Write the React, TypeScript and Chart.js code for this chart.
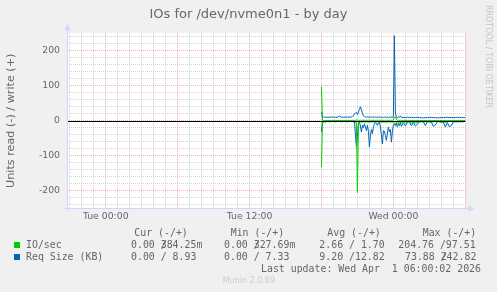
import React, { useEffect, useRef } from 'react';
import { Chart, registerables } from 'chart.js';

Chart.register(...registerables);

// time of each sample, minutes after Tue 00:00
const minutes = [
  1080, 1085, 1090, 1095, 1100,
  1110, 1120, 1130, 1140, 1150, 1160, 1170, 1180, 1190, 1200, 1210, 1220, 1230,
  1235, 1240, 1245, 1250, 1255, 1260, 1265, 1270, 1275, 1280,
  1285, 1290, 1295, 1300, 1305, 1310, 1315, 1320, 1325, 1330,
  1335, 1340, 1345, 1350, 1355, 1360, 1365, 1370, 1375, 1380,
  1385, 1390, 1395, 1400, 1405, 1410, 1415, 1420, 1425, 1430,
  1435, 1440, 1445, 1450, 1455, 1460, 1465, 1470, 1475, 1480,
  1490, 1500, 1510, 1520, 1530, 1540, 1550, 1560, 1570, 1580, 1590, 1600, 1610, 1620, 1630, 1640,
  1650, 1660, 1670, 1680, 1690, 1700, 1710, 1720, 1730, 1740, 1750, 1760, 1770, 1780, 1790, 1800,
];

// IO/sec write (+)
const ioWrite = [
  97.51, 1.2, 0.8, 0.6, 0.9,
  0.7, 0.9, 0.6, 0.8, 1.1, 0.7, 0.9, 0.6, 0.8, 0.7, 1.0, 0.8, 0.9,
  1.0, 1.2, 0.9, 1.5, 2.0, 1.8, 1.4, 1.2, 1.6, 1.3,
  1.1, 1.4, 1.2, 1.0, 1.3, 1.1, 1.5, 1.2, 1.0, 1.4,
  1.1, 1.3, 1.0, 1.2, 1.4, 1.1, 1.0, 1.3, 1.2, 1.1,
  1.4, 1.2, 1.0, 1.3, 1.1, 1.2, 1.0, 1.3, 1.1, 1.4,
  1.2, 2.5, 9.0, 11.0, 4.0, 1.5, 1.2, 1.0, 1.3, 0.9,
  0.8, 1.0, 0.7, 0.9, 0.6, 0.8, 0.7, 0.9, 0.6, 0.5, 0.7, 0.6, 0.8, 0.5, 0.6, 0.7,
  0.5, 0.6, 0.8, 0.5, 0.6, 0.4, 0.5, 0.7, 0.5, 0.4, 0.6, 0.5, 0.4, 0.5, 0.4, 0.38,
];

// IO/sec read (-), magnitudes
const ioRead = [
  132.0, 2.5, 0.8, 0.5, 0.6,
  0.4, 0.5, 0.3, 0.4, 0.6, 0.4, 0.5, 0.3, 0.4, 0.5, 0.4, 0.6, 0.5,
  0.6, 0.8, 1.0, 3.0, 6.0, 204.76, 5.0, 3.5, 3.0, 3.8,
  3.2, 3.6, 3.0, 4.0, 3.4, 3.0, 3.8, 4.5, 3.2, 3.5,
  3.0, 3.4, 3.1, 3.6, 3.0, 3.3, 3.0, 3.2, 3.5, 3.8,
  4.2, 3.4, 3.6, 3.8, 4.0, 3.5, 3.2, 3.6, 3.4, 4.0,
  3.6, 4.5, 7.0, 9.0, 5.0, 6.0, 4.0, 7.0, 3.5, 6.5,
  3.0, 5.5, 3.0, 2.5, 6.0, 3.0, 6.5, 4.0, 2.0, 2.0, 2.5, 3.0, 2.0, 2.5, 5.0, 2.0,
  1.5, 1.5, 2.0, 5.5, 2.0, 5.0, 2.5, 1.5, 1.2, 1.5, 1.0, 1.2, 0.8, 0.6, 0.5, 0.0,
];

// Req Size (KB) write (+)
const reqWrite = [
  25, 10, 10, 11, 10,
  10, 10, 11, 10, 10, 10, 13, 10, 10, 10, 11, 10, 11,
  12, 14, 19, 22, 24, 18, 25, 32, 40, 31,
  21, 14, 12, 11, 10, 11, 10, 11, 10, 10,
  11, 10, 10, 11, 10, 10, 10, 11, 10, 10,
  9, 10, 10, 11, 10, 10, 9, 10, 10, 11,
  10, 10, 242.82, 22, 10, 9, 11, 10, 14, 9,
  10, 9, 10, 9, 10, 9, 9, 10, 9, 9, 8, 9, 9, 9, 10, 9,
  9, 8, 9, 9, 9, 9, 10, 9, 9, 9, 9, 10, 9, 9, 9, 8.93,
];

// Req Size (KB) read (-), magnitudes
const reqRead = [
  32, 3, 5, 2, 4,
  2, 3, 2, 2, 3, 2, 2, 3, 2, 2, 3, 2, 2,
  2, 3, 2, 40, 75, 45, 9, 4, 15, 32,
  13, 20, 9, 18, 28, 13, 30, 75, 42, 25,
  37, 18, 10, 4, 8, 13, 6, 4, 18, 40,
  66, 28, 30, 42, 56, 35, 18, 32, 25, 61,
  30, 13, 9, 14, 6, 18, 8, 14, 5, 16,
  6, 15, 4, 3, 14, 5, 15, 10, 3, 3, 3, 14, 3, 3, 4, 16,
  12, 3, 3, 3, 4, 18, 5, 17, 14, 3, 3, 3, 3, 3, 3, 0,
];

const xLabelMinutes = [0, 720, 1440];
const xLabels = ['Tue 00:00', 'Tue 12:00', 'Wed 00:00'];
const yLabelValues = [-200, -100, 0, 100, 200];
const yLabels = ['-200', '-100', '0', '100', '200'];

const X_MIN = -194;
const X_MAX = 1800;
const Y_MIN = -250;
const Y_MAX = 250;

const GREEN = '#00CC00';
const BLUE = '#0066B3';
const MINOR = 'rgba(175,175,175,0.55)';
const MAJOR = 'rgba(240,120,120,0.6)';
const AXIS = '#CFD6F8';
const FONT_COLOR = '#666666';

const decor = {
  id: 'decor',
  beforeDraw(chart: any) {
    const { ctx, chartArea: a } = chart;
    ctx.save();
    ctx.fillStyle = '#FFFFFF';
    ctx.fillRect(a.left, a.top, a.right - a.left, a.bottom - a.top);
    ctx.restore();
  },
  afterDatasetsDraw(chart: any) {
    const { ctx, chartArea: a, scales } = chart;
    const y0 = Math.round(scales.y.getPixelForValue(0)) + 0.5;
    ctx.save();
    ctx.strokeStyle = '#000000';
    ctx.lineWidth = 1;
    ctx.beginPath();
    ctx.moveTo(a.left, y0);
    ctx.lineTo(a.right, y0);
    ctx.stroke();
    ctx.restore();
  },
  afterDraw(chart: any) {
    const { ctx, chartArea: a } = chart;
    const l = Math.round(a.left) + 0.5;
    const b = Math.round(a.bottom) + 0.5;
    ctx.save();
    ctx.strokeStyle = AXIS;
    ctx.fillStyle = AXIS;
    ctx.lineWidth = 1;
    ctx.beginPath();
    ctx.moveTo(l, b + 3);
    ctx.lineTo(l, a.top - 4);
    ctx.moveTo(l - 3, b);
    ctx.lineTo(a.right + 4, b);
    ctx.stroke();
    ctx.beginPath();
    ctx.moveTo(l - 3, a.top - 3);
    ctx.lineTo(l + 3, a.top - 3);
    ctx.lineTo(l, a.top - 9);
    ctx.closePath();
    ctx.fill();
    ctx.beginPath();
    ctx.moveTo(a.right + 3, b - 3);
    ctx.lineTo(a.right + 3, b + 3);
    ctx.lineTo(a.right + 9, b);
    ctx.closePath();
    ctx.fill();
    ctx.restore();
  },
};

const mono: React.CSSProperties = {
  position: 'absolute',
  fontFamily: '"DejaVu Sans Mono", monospace',
  fontSize: 9.9,
  lineHeight: '12px',
  color: FONT_COLOR,
  whiteSpace: 'pre',
  margin: 0,
};

const Over = ({ ch }: { ch: string }) => (
  <span style={{ display: 'inline-block', width: 0 }}>{ch}</span>
);

export default function App() {
  const ref = useRef<HTMLCanvasElement>(null);

  useEffect(() => {
    const pts = (vals: number[], sign: number) => minutes.map((m, i) => ({ x: m, y: sign * vals[i] }));
    const line = (data: any, color: string, label: string) => ({
      label,
      data,
      borderColor: color,
      backgroundColor: color,
      borderWidth: 1,
      pointRadius: 0,
      tension: 0,
      fill: false,
    });
    const chart = new Chart(ref.current as HTMLCanvasElement, {
      type: 'line',
      data: {
        datasets: [
          line(pts(ioRead, -1), GREEN, 'IO/sec read'),
          line(pts(ioWrite, 1), GREEN, 'IO/sec write'),
          line(pts(reqRead, -1), BLUE, 'Req Size (KB) read'),
          line(pts(reqWrite, 1), BLUE, 'Req Size (KB) write'),
        ],
      },
      options: {
        animation: false,
        responsive: false,
        devicePixelRatio: 1,
        layout: { padding: { left: 0, top: 33.2, right: 31.7, bottom: 63.7 } },
        plugins: {
          legend: { display: false },
          tooltip: { enabled: false },
          title: { display: false },
        },
        scales: {
          x: {
            type: 'linear',
            min: X_MIN,
            max: X_MAX,
            afterBuildTicks: (s: any) => {
              const t: any[] = [];
              for (let v = -180; v <= X_MAX; v += 60) t.push({ value: v });
              s.ticks = t;
            },
            afterFit: (s: any) => {
              s.height = 20;
            },
            grid: {
              color: (c: any) => (c.tick && c.tick.value % 360 === 0 ? MAJOR : MINOR),
              lineWidth: 1,
              drawTicks: false,
            },
            border: { display: false, dash: [1, 1] },
            ticks: {
              autoSkip: false,
              maxRotation: 0,
              padding: 3,
              color: FONT_COLOR,
              font: { family: 'DejaVu Sans', size: 9.3 },
              callback: (v: any) => {
                const i = xLabelMinutes.indexOf(Number(v));
                return i >= 0 ? xLabels[i] : '';
              },
            },
          },
          y: {
            type: 'linear',
            min: Y_MIN,
            max: Y_MAX,
            afterBuildTicks: (s: any) => {
              const t: any[] = [];
              for (let v = -240; v <= 240; v += 20) t.push({ value: v });
              s.ticks = t;
            },
            afterFit: (s: any) => {
              s.width = 67;
            },
            grid: {
              color: (c: any) => (c.tick && c.tick.value % 100 === 0 ? MAJOR : MINOR),
              lineWidth: 1,
              drawTicks: false,
            },
            border: { display: false, dash: [1, 1] },
            ticks: {
              autoSkip: false,
              padding: 7,
              color: FONT_COLOR,
              font: { family: 'DejaVu Sans', size: 9.3 },
              callback: (v: any) => {
                const i = yLabelValues.indexOf(Number(v));
                return i >= 0 ? yLabels[i] : '';
              },
            },
            title: {
              display: true,
              text: 'Units read (-) / write (+)',
              color: FONT_COLOR,
              font: { family: 'DejaVu Sans', size: 11.2 },
              padding: { top: 4, bottom: 0 },
            },
          },
        },
      },
      plugins: [decor],
    } as any);
    return () => chart.destroy();
  }, []);

  return (
    <div
      style={{
        position: 'absolute',
        left: 0,
        top: 0,
        width: 497,
        height: 292,
        background: '#F0F0F0',
        overflow: 'hidden',
      }}
    >
      <canvas ref={ref} width={497} height={292} style={{ position: 'absolute', left: 0, top: 0 }} />
      <div
        style={{
          position: 'absolute',
          left: 0,
          top: 6,
          width: 497,
          textAlign: 'center',
          fontFamily: '"DejaVu Sans", sans-serif',
          fontSize: 13,
          lineHeight: '15px',
          color: FONT_COLOR,
        }}
      >
        IOs for /dev/nvme0n1 - by day
      </div>
      <div
        style={{
          position: 'absolute',
          left: 483.3,
          top: 5,
          writingMode: 'vertical-rl',
          fontFamily: '"DejaVu Sans", sans-serif',
          fontSize: 8,
          lineHeight: '10px',
          color: '#C4C4C4',
          whiteSpace: 'pre',
        }}
      >
        RRDTOOL / TOBI OETIKER
      </div>

      <div style={{ ...mono, left: 134.3, top: 226.9 }}>Cur (-/+)</div>
      <div style={{ ...mono, left: 230.7, top: 226.9 }}>Min (-/+)</div>
      <div style={{ ...mono, left: 327.3, top: 226.9 }}>Avg (-/+)</div>
      <div style={{ ...mono, left: 422.7, top: 226.9 }}>Max (-/+)</div>

      <div style={{ position: 'absolute', left: 14, top: 241.5, width: 6, height: 6, background: GREEN }} />
      <div style={{ ...mono, left: 26, top: 238.5 }}>IO/sec</div>
      <div style={{ ...mono, left: 131, top: 238.5 }}>0.00 <Over ch="/" />384.25m</div>
      <div style={{ ...mono, left: 224, top: 238.5 }}>0.00 <Over ch="/" />327.69m</div>
      <div style={{ ...mono, left: 319.3, top: 238.5 }}>2.66 / 1.70</div>
      <div style={{ ...mono, left: 398.3, top: 238.5 }}>204.76 /97.51</div>

      <div style={{ position: 'absolute', left: 14, top: 253.8, width: 6, height: 6, background: BLUE }} />
      <div style={{ ...mono, left: 26, top: 250.9 }}>Req Size (KB)</div>
      <div style={{ ...mono, left: 131, top: 250.9 }}>0.00 / 8.93</div>
      <div style={{ ...mono, left: 224, top: 250.9 }}>0.00 / 7.33</div>
      <div style={{ ...mono, left: 319.3, top: 250.9 }}>9.20 /12.82</div>
      <div style={{ ...mono, left: 405, top: 250.9 }}>73.88 <Over ch="/" />242.82</div>

      <div style={{ ...mono, left: 261, top: 262.9 }}>Last update: Wed Apr  1 06:00:02 2026</div>
      <div
        style={{
          position: 'absolute',
          left: 222.7,
          top: 276,
          fontFamily: '"DejaVu Sans", sans-serif',
          fontSize: 8,
          lineHeight: '10px',
          color: '#CCCCCC',
          whiteSpace: 'pre',
        }}
      >
        Munin 2.0.69
      </div>
    </div>
  );
}
